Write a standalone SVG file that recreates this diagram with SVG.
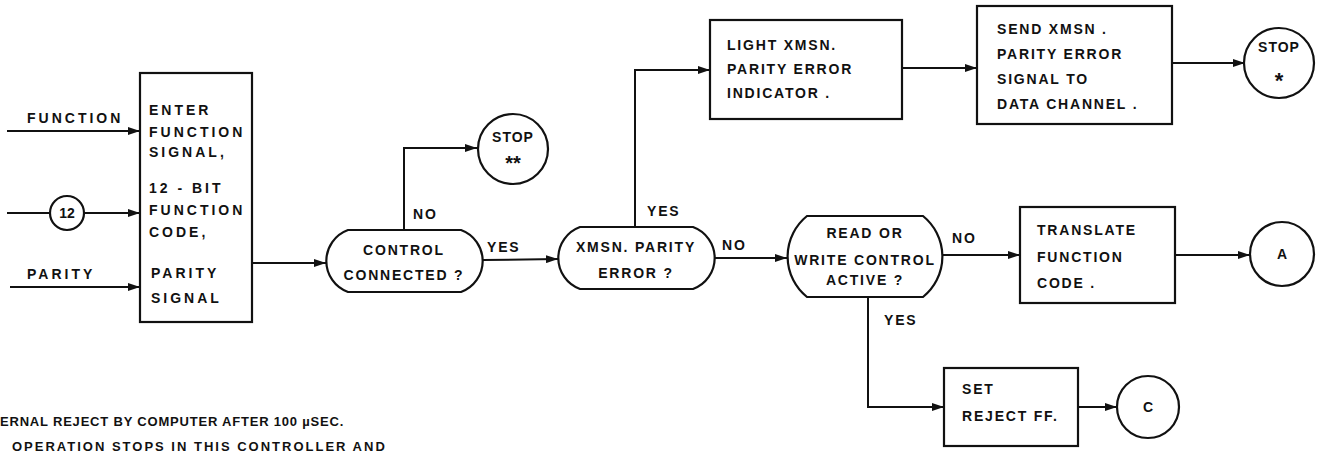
<svg xmlns="http://www.w3.org/2000/svg" width="1331" height="453" viewBox="0 0 1331 453">
<defs>
<style>
text{font-family:"Liberation Sans",Arial,sans-serif;font-weight:bold;fill:#111;}
.t{font-size:14px;letter-spacing:1.8px;}
.w{font-size:14px;letter-spacing:3px;}
.c{text-anchor:middle;}
.n{font-size:13px;letter-spacing:0.8px;}
.s{fill:none;stroke:#111;stroke-width:2;}
.box{fill:#fff;stroke:#111;stroke-width:2.2;}
</style>
<marker id="ah" markerUnits="userSpaceOnUse" markerWidth="12" markerHeight="8" refX="12" refY="4" orient="auto">
<path d="M0,0 L12,4 L0,8 z" fill="#111"/>
</marker>
</defs>
<rect width="1331" height="453" fill="#fff"/>

<g id="connectors" class="s">
<line x1="7" y1="131" x2="140" y2="131" marker-end="url(#ah)"/>
<line x1="7" y1="213" x2="50" y2="213"/>
<line x1="84" y1="213" x2="140" y2="213" marker-end="url(#ah)"/>
<line x1="10" y1="287" x2="140" y2="287" marker-end="url(#ah)"/>
<line x1="252" y1="263" x2="326" y2="263" marker-end="url(#ah)"/>
<polyline points="404,230 404,148 477,148" marker-end="url(#ah)"/>
<line x1="483" y1="260" x2="558" y2="259" marker-end="url(#ah)"/>
<polyline points="635,227 635,70 710,70" marker-end="url(#ah)"/>
<line x1="715" y1="258" x2="787" y2="258" marker-end="url(#ah)"/>
<line x1="902" y1="68" x2="977" y2="68" marker-end="url(#ah)"/>
<line x1="1172" y1="63" x2="1245" y2="63" marker-end="url(#ah)"/>
<line x1="943" y1="255" x2="1020" y2="255" marker-end="url(#ah)"/>
<line x1="1175" y1="255" x2="1250" y2="255" marker-end="url(#ah)"/>
<polyline points="868,297 868,407 944,407" marker-end="url(#ah)"/>
<line x1="1078" y1="407" x2="1117" y2="407" marker-end="url(#ah)"/>
</g>
<g id="labels">
<text class="w" x="27" y="123">FUNCTION</text>
<text class="w" x="27" y="279">PARITY</text>
<text class="t" x="413" y="219">NO</text>
<text class="t" x="487" y="252">YES</text>
<text class="t" x="647" y="216">YES</text>
<text class="t" x="722" y="250">NO</text>
<text class="t" x="952" y="243">NO</text>
<text class="t" x="884" y="325">YES</text>
</g>

<g id="n12">
<circle class="box" cx="67" cy="213" r="17"/>
<text class="t c" x="67" y="218" style="letter-spacing:0">12</text>
</g>
<g id="enter">
<rect class="box" x="140" y="73" width="112" height="249"/>
<text class="w" x="149" y="115">ENTER</text>
<text class="w" x="149" y="137">FUNCTION</text>
<text class="w" x="149" y="157">SIGNAL,</text>
<text class="w" x="149" y="193">12 - BIT</text>
<text class="w" x="149" y="215">FUNCTION</text>
<text class="w" x="149" y="237">CODE,</text>
<text class="w" x="151" y="278">PARITY</text>
<text class="w" x="151" y="303">SIGNAL</text>
</g>
<g id="control">
<path class="box" d="M348,230 H461 A33,33 0 0 1 461,292 H348 A33,33 0 0 1 348,230 Z"/>
<text class="t c" x="404" y="255">CONTROL</text>
<text class="t c" x="404" y="280">CONNECTED ?</text>
</g>
<g id="stop2">
<circle class="box" cx="513" cy="149" r="35"/>
<text class="t c" x="513" y="142" style="letter-spacing:1px">STOP</text>
<text class="c" x="513" y="170" style="font-size:20px;letter-spacing:0">**</text>
</g>
<g id="xmsn">
<path class="box" d="M580,227 H693 A33,33 0 0 1 693,289 H580 A33,33 0 0 1 580,227 Z"/>
<text class="t c" x="636" y="252">XMSN. PARITY</text>
<text class="t c" x="636" y="278">ERROR ?</text>
</g>
<g id="light">
<rect class="box" x="710" y="20" width="192" height="99"/>
<text class="t" x="727" y="50">LIGHT XMSN.</text>
<text class="t" x="727" y="74">PARITY ERROR</text>
<text class="t" x="727" y="98">INDICATOR .</text>
</g>
<g id="send">
<rect class="box" x="977" y="6" width="195" height="118"/>
<text class="t" x="997" y="34">SEND XMSN .</text>
<text class="t" x="997" y="59">PARITY ERROR</text>
<text class="t" x="997" y="84">SIGNAL TO</text>
<text class="t" x="997" y="109">DATA CHANNEL .</text>
</g>
<g id="stop1">
<circle class="box" cx="1279" cy="63" r="35"/>
<text class="t c" x="1279" y="52" style="letter-spacing:1px">STOP</text>
<text class="c" x="1279" y="88" style="font-size:22px;letter-spacing:0">*</text>
</g>
<g id="read">
<path class="box" d="M807,216 H923 A52,52 0 0 1 923,297 H807 A52,52 0 0 1 807,216 Z"/>
<text class="t c" x="865" y="238">READ OR</text>
<text class="t c" x="865" y="265">WRITE CONTROL</text>
<text class="t c" x="865" y="285">ACTIVE ?</text>
</g>
<g id="translate">
<rect class="box" x="1020" y="207" width="155" height="96"/>
<text class="t" x="1037" y="235">TRANSLATE</text>
<text class="t" x="1037" y="262">FUNCTION</text>
<text class="t" x="1037" y="288">CODE .</text>
</g>
<g id="a">
<circle class="box" cx="1282" cy="254" r="32"/>
<text class="t c" x="1282" y="259" style="letter-spacing:0">A</text>
</g>
<g id="set">
<rect class="box" x="944" y="368" width="134" height="78"/>
<text class="t" x="962" y="394">SET</text>
<text class="t" x="962" y="421">REJECT FF.</text>
</g>
<g id="c">
<circle class="box" cx="1148" cy="407" r="31"/>
<text class="t c" x="1148" y="412" style="letter-spacing:0">C</text>
</g>
<g id="notes">
<text class="n" x="0" y="426">ERNAL REJECT BY COMPUTER AFTER 100 µSEC.</text>
<text class="n" x="12" y="451" style="letter-spacing:2px">OPERATION STOPS IN THIS CONTROLLER AND</text>
</g>
</svg>
